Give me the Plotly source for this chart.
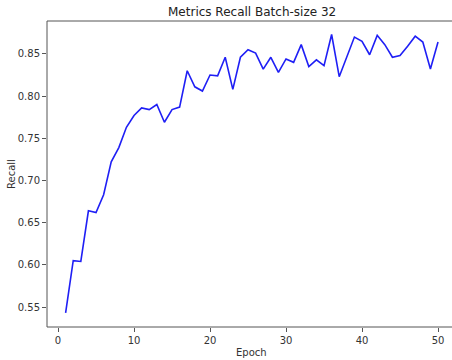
import plotly.graph_objects as go

# Recall per training epoch (batch size 32)
epochs = list(range(1, 51))
recall = [
    0.543, 0.605, 0.604, 0.664, 0.662, 0.683, 0.722, 0.739, 0.763, 0.777,
    0.786, 0.784, 0.790, 0.769, 0.784, 0.787, 0.830, 0.811, 0.806, 0.825,
    0.824, 0.846, 0.808, 0.846, 0.855, 0.851, 0.832, 0.846, 0.828, 0.844,
    0.840, 0.861, 0.835, 0.843, 0.836, 0.873, 0.823, 0.847, 0.870, 0.865,
    0.849, 0.872, 0.861, 0.846, 0.848, 0.859, 0.871, 0.864, 0.832, 0.864,
]
x_ticks = [0, 10, 20, 30, 40, 50]
y_ticks = [0.55, 0.60, 0.65, 0.70, 0.75, 0.80, 0.85]

title_text = "Metrics Recall Batch-size 32"
x_label = "Epoch"
y_label = "Recall"

FONT = "DejaVu Sans"
AXIS_COLOR = "#555555"
TEXT_COLOR = "#333333"

fig = go.Figure()
fig.add_trace(go.Scatter(
    x=epochs, y=recall, mode="lines",
    line=dict(color="#1f1ff5", width=1.6),
    showlegend=False,
))

# frame: left, top and bottom spines; the right one falls outside the canvas
spine = dict(color=AXIS_COLOR, width=1)
shapes = [
    dict(type="line", xref="paper", yref="paper", x0=0, x1=1.05, y0=1, y1=1, line=spine),
    dict(type="line", xref="paper", yref="paper", x0=0, x1=1.05, y0=0, y1=0, line=spine),
    dict(type="line", xref="paper", yref="paper", x0=0, x1=0, y0=0, y1=1, line=spine),
]

fig.update_layout(
    width=452, height=360,
    margin=dict(l=47, r=0, t=21, b=33, pad=0),
    paper_bgcolor="white", plot_bgcolor="white",
    font=dict(family=FONT, size=10, color=TEXT_COLOR),
    shapes=shapes,
    annotations=[
        dict(text=title_text, xref="paper", yref="paper", x=0.506, y=1.0,
             yshift=9, xanchor="center", yanchor="middle", showarrow=False,
             font=dict(family=FONT, size=12, color="#222222")),
        dict(text=x_label, xref="paper", yref="paper", x=0.506, y=0,
             yshift=-25, xanchor="center", yanchor="middle", showarrow=False,
             font=dict(family=FONT, size=10, color=TEXT_COLOR)),
        dict(text=y_label, xref="paper", yref="paper", x=0, y=0.5,
             xshift=-36, xanchor="center", yanchor="middle", showarrow=False,
             textangle=-90, font=dict(family=FONT, size=10, color=TEXT_COLOR)),
    ],
)

fig.update_xaxes(
    range=[-1.45, 51.84], tickvals=x_ticks,
    ticks="outside", ticklen=4, tickwidth=1, tickcolor=AXIS_COLOR,
    showline=False, showgrid=False, zeroline=False,
)
fig.update_yaxes(
    range=[0.5263, 0.889], tickvals=y_ticks, tickformat=".2f",
    ticks="outside", ticklen=4, tickwidth=1, tickcolor=AXIS_COLOR,
    showline=False, showgrid=False, zeroline=False,
)

fig.write_html("out.html", config={"displayModeBar": False})
